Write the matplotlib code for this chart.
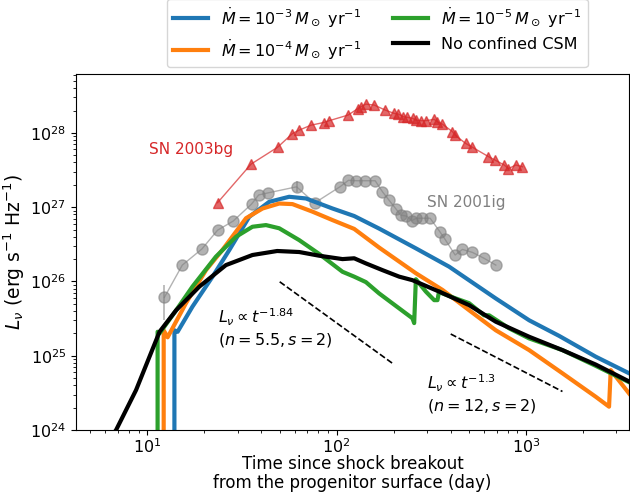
import numpy as np
import matplotlib
matplotlib.use('Agg')
import matplotlib.pyplot as plt

# SN 2003bg (red triangles)
t_03bg = [23.5, 35.3, 48.7, 58.4, 63.4, 73.1, 85.4, 91.3, 115, 128.8, 134.2, 142.6, 157.7,
          180.3, 201, 211.9, 225.2, 236.4, 251.4, 261.9, 278.1, 295.6, 327, 340.4, 361.6,
          408.4, 421.8, 480.5, 521, 632.4, 686, 765.6, 806.8, 882.6, 957]
L_03bg = [1.15e27, 3.8e27, 6.4e27, 9.8e27, 1.09e28, 1.27e28, 1.38e28, 1.46e28, 1.74e28, 2.11e28,
          2.25e28, 2.44e28, 2.37e28, 2.03e28, 1.83e28, 1.79e28, 1.65e28, 1.62e28, 1.57e28, 1.49e28,
          1.46e28, 1.46e28, 1.52e28, 1.41e28, 1.31e28, 1.04e28, 9.3e27, 7.2e27, 6.4e27, 4.8e27,
          4.3e27, 3.7e27, 3.3e27, 3.7e27, 3.5e27]

# SN 2001ig (grey circles)
t_01ig = [12.3, 15.3, 19.4, 23.5, 28.4, 35.5, 38.7, 43.5, 61.4, 76.5, 104, 115.4, 127, 140.8,
          159.7, 174.5, 188.5, 206, 218, 233.5, 249.2, 263.7, 283.6, 311.3, 350.6, 372.6, 422,
          461, 521, 600, 692]
L_01ig = [6.1e25, 1.66e26, 2.73e26, 4.9e26, 6.5e26, 1.10e27, 1.46e27, 1.56e27, 1.88e27, 1.14e27,
          1.88e27, 2.30e27, 2.27e27, 2.27e27, 2.27e27, 1.61e27, 1.25e27, 9.4e26, 7.8e26, 7.6e26,
          6.6e26, 7.1e26, 7.1e26, 7.1e26, 4.67e26, 3.72e26, 2.27e26, 2.70e26, 2.46e26, 2.05e26,
          1.66e26]
# points with error bars
t_01ig_err = [12.3, 61.4]
L_01ig_err = [6.1e25, 1.88e27]
L_01ig_lo = [3.0e25, 1.61e27]
L_01ig_hi = [9.0e25, 2.27e27]

# models
t_m3 = [13.9, 13.9, 14.45, 17.3, 22.1, 27.1, 34.5, 44.0, 56.1, 68.8, 95.0, 123.7, 167.5,
        261.8, 392.4, 692, 1038, 1494, 2333, 3500]
L_m3 = [1e23, 2.2e25, 2.1e25, 4.57e25, 1.16e26, 2.65e26, 7.4e26, 1.18e27, 1.38e27, 1.31e27,
        9.6e26, 7.6e26, 5.15e26, 2.79e26, 1.58e26, 5.9e25, 3.0e25, 1.85e25, 9.7e24, 5.8e24]

t_m4 = [12.2, 12.2, 12.8, 16.0, 20.4, 24.9, 33.2, 40.6, 49.7, 58.4, 74.5, 95.0, 123.7, 167.5,
        261.8, 361.6, 500, 692, 1038, 1556, 2333, 2742, 2799, 3500]
L_m4 = [1e23, 2.2e25, 1.77e25, 5.1e25, 1.42e26, 2.65e26, 7.1e26, 9.6e26, 1.12e27, 1.10e27,
        8.7e26, 6.7e26, 5.1e26, 2.86e26, 1.29e26, 7.7e25, 4.1e25, 2.2e25, 1.19e25, 5.8e24,
        2.8e24, 2.06e24, 6.4e24, 3.1e24]

t_m5 = [11.33, 11.33, 11.6, 14.2, 17.3, 23.0, 29.4, 35.9, 42.3, 49.7, 63.4, 80.9, 107.3, 123.7,
        142.6, 167.5, 251.2, 256.5, 261.8, 295.6, 327.2, 340.4, 347.4, 361.6, 425.6, 500, 600,
        638, 813, 1038, 1556, 2333, 3500]
L_m5 = [1e23, 2.1e25, 2.0e25, 4.1e25, 8.5e25, 2.15e26, 4.0e26, 5.45e26, 5.74e26, 5.2e26,
        3.6e26, 2.34e26, 1.35e26, 1.16e26, 9.8e25, 6.9e25, 3.19e25, 2.75e25, 1.07e26, 7.3e25,
        5.6e25, 5.6e25, 7.4e25, 6.9e25, 5.9e25, 5.1e25, 3.5e25, 3.5e25, 2.34e25, 1.71e25,
        1.19e25, 7.3e24, 4.4e24]

t_nocsm = [6.53, 6.84, 8.72, 11.6, 14.2, 18.8, 26.0, 35.9, 48.5, 63.4, 80.9, 107.3, 123.7,
           142.6, 174.5, 213.8, 251.2, 347.4, 500, 692, 1038, 1556, 2333, 3500]
L_nocsm = [8.5e23, 1e24, 3.45e24, 2.1e25, 4.1e25, 8.5e25, 1.66e26, 2.27e26, 2.57e26, 2.49e26,
           2.22e26, 2.0e26, 2.05e26, 1.75e26, 1.42e26, 1.16e26, 1.04e26, 7.3e25, 4.8e25,
           2.87e25, 1.80e25, 1.19e25, 7.6e24, 4.5e24]

# power-law guide lines (end points)
t_pl1 = [50, 197]
L_pl1 = [9.9e25, 7.9e24]
t_pl2 = [400, 1556]
L_pl2 = [1.96e25, 3.3e24]

fig = plt.figure(figsize=(6.3, 4.93), dpi=100)
ax = fig.add_axes([0.1206, 0.1278, 0.878, 0.722])

ax.plot(t_03bg, L_03bg, color='tab:red', marker='^', ms=7, lw=1, alpha=0.7)
ax.plot(t_01ig, L_01ig, color='gray', marker='o', ms=8, lw=1, alpha=0.6)
yerr = [np.array(L_01ig_err) - np.array(L_01ig_lo), np.array(L_01ig_hi) - np.array(L_01ig_err)]
ax.errorbar(t_01ig_err, L_01ig_err, yerr=yerr, fmt='none', ecolor='gray', elinewidth=1.2, alpha=0.6)

l3, = ax.plot(t_m3, L_m3, color='tab:blue', lw=3, label=r'$\dot{M}=10^{-3}\,M_\odot$ yr$^{-1}$')
l4, = ax.plot(t_m4, L_m4, color='tab:orange', lw=3, label=r'$\dot{M}=10^{-4}\,M_\odot$ yr$^{-1}$')
l5, = ax.plot(t_m5, L_m5, color='tab:green', lw=3, label=r'$\dot{M}=10^{-5}\,M_\odot$ yr$^{-1}$')
l0, = ax.plot(t_nocsm, L_nocsm, color='black', lw=3, label='No confined CSM')

ax.plot(t_pl1, L_pl1, 'k--', lw=1.2)
ax.plot(t_pl2, L_pl2, 'k--', lw=1.2)

ax.text(10.2, 5.9e27, 'SN 2003bg', color='tab:red', fontsize=11, ha='left', va='center')
ax.text(301, 1.15e27, 'SN 2001ig', color='gray', fontsize=11, ha='left', va='center')
ax.text(23.5, 2.36e25, '$L_\\nu \\propto t^{-1.84}$\n$(n=5.5, s=2)$', fontsize=11.5,
        ha='left', va='center')
ax.text(301, 3.05e24, '$L_\\nu \\propto t^{-1.3}$\n$(n=12, s=2)$', fontsize=11.5,
        ha='left', va='center')

ax.set_xscale('log')
ax.set_yscale('log')
ax.set_xlim(4.2, 3500)
ax.set_ylim(1e24, 6.2e28)
ax.tick_params(labelsize=11.5)
ax.tick_params(axis='x', pad=2)
ax.set_xlabel('Time since shock breakout\nfrom the progenitor surface (day)', fontsize=12,
              linespacing=1.05)
ax.set_ylabel(r'$L_\nu$ (erg s$^{-1}$ Hz$^{-1}$)', fontsize=13.5)
ax.xaxis.set_label_coords(0.5, -0.071)
ax.yaxis.set_label_coords(-0.088, 0.5)

ax.legend(handles=[l3, l4, l5, l0], ncol=2, fontsize=11.5, loc='lower left',
          bbox_to_anchor=(0.164, 1.02), borderaxespad=0, handlelength=2.2)

fig.savefig('out.png', dpi=100)
